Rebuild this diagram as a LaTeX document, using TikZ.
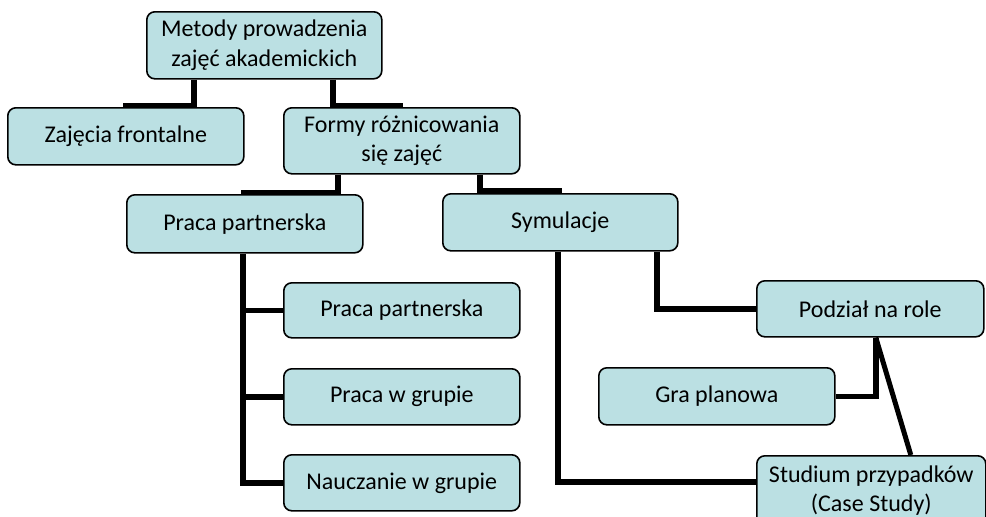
\documentclass[tikz,border=0pt]{standalone}
\usepackage{fontspec}
\setmainfont{Carlito}
\usetikzlibrary{backgrounds}
\definecolor{boxfill}{RGB}{187,224,227}
\tikzset{
  orgbox/.style={draw=black, line width=1.6pt, fill=boxfill, rounded corners=8pt,
    anchor=north west, inner sep=0pt, align=center,
    font=\fontsize{24}{29.3}\selectfont},
  conn/.style={draw=black, line width=5.5pt, line join=miter}
}
\begin{document}
\begin{tikzpicture}[x=1pt,y=-1pt]
\useasboundingbox (0,0) rectangle (986,517);
\clip (0,0) rectangle (986,517);
% boxes
\node[orgbox, minimum width=235pt, minimum height=67pt] (top) at (146,11) {Metody prowadzenia\\zajęć akademickich};
\node[orgbox, minimum width=236pt, minimum height=57pt] (zaj) at (7,107) {Zajęcia frontalne};
\node[orgbox, minimum width=236pt, minimum height=66pt] (formy) at (283,107) {Formy różnicowania\\się zajęć};
\node[orgbox, minimum width=236pt, minimum height=58pt] (pp) at (126,194) {Praca partnerska};
\node[orgbox, minimum width=235pt, minimum height=57pt] (sym) at (442,193) {Symulacje};
\node[orgbox, minimum width=236pt, minimum height=55pt] (c1) at (283,282) {Praca partnerska};
\node[orgbox, minimum width=236pt, minimum height=56pt] (c2) at (283,368) {Praca w grupie};
\node[orgbox, minimum width=236pt, minimum height=56pt] (c3) at (283,454) {Nauczanie w grupie};
\node[orgbox, minimum width=227pt, minimum height=56pt] (pod) at (756,280) {Podział na role};
\node[orgbox, minimum width=236pt, minimum height=57pt] (gra) at (598,367) {Gra planowa};
\node[orgbox, minimum width=229pt, minimum height=70pt] (stu) at (756,455) {Studium przypadków\\(Case Study)};
% connectors
\begin{scope}[on background layer]
\fill[white] (0,0) rectangle (986,517);
\draw[conn] ([xshift=48pt]top.south west) |- ([xshift=116pt,yshift=1.5pt]zaj.north west);
\draw[conn] ([xshift=187pt]top.south west) |- ([xshift=120pt,yshift=1.5pt]formy.north west);
\draw[conn] ([xshift=55pt]formy.south west) |- ([xshift=115pt,yshift=1.5pt]pp.north west);
\draw[conn] ([xshift=197pt]formy.south west) |- ([xshift=120pt,yshift=2pt]sym.north west);
\draw[conn] ([xshift=117pt]pp.south west) |- (c3.west);
\draw[conn] ([xshift=117pt]pp.south west |- c1.west) -- (c1.west);
\draw[conn] ([xshift=117pt]pp.south west |- c2.west) -- (c2.west);
\draw[conn] ([xshift=215pt]sym.south west) |- (pod.west);
\draw[conn] ([xshift=116pt]sym.south west) |- (stu.west |- 0,482);
\draw[conn] (gra.east) -| ([xshift=5.5pt]pod.south);
\draw[conn, line width=5pt] ([xshift=5.5pt]pod.south) -- ([xshift=39.5pt]stu.north);
\end{scope}
\end{tikzpicture}
\end{document}
